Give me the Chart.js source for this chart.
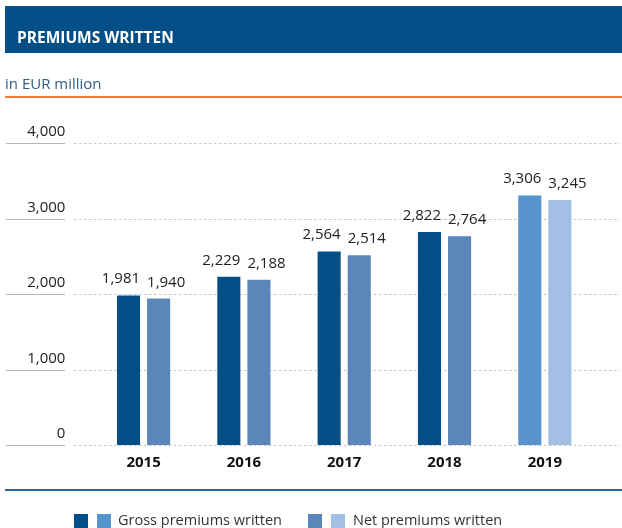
<!DOCTYPE html>
<html>
<head>
<meta charset="utf-8">
<script src="https://cdn.jsdelivr.net/npm/chart.js@4/dist/chart.umd.min.js"></script>
<style>
  html, body { margin: 0; padding: 0; background: #fff; }
  body { width: 622px; height: 528px; position: relative; overflow: hidden; font-family: "Open Sans", sans-serif; }
  #myChart { position: absolute; left: 0; top: 0; }
  .head { position: absolute; left: 5px; top: 6px; width: 617px; height: 47px; background: #024f87; }
  .head span { position: absolute; left: 12px; top: 21px; color: #fff; font-weight: bold; font-size: 15.5px; line-height: 20px; white-space: nowrap; }
  .unit { position: absolute; left: 5px; top: 73px; color: #2f5d88; font-size: 15px; line-height: 20px; }
  .rule-o { position: absolute; left: 5px; top: 96px; width: 617px; height: 2px; background: #f07c36; }
  .rule-b { position: absolute; left: 5px; top: 489px; width: 617px; height: 2px; background: #2c6398; }
  .leg { position: absolute; top: 510px; font-size: 14.5px; line-height: 20px; color: #333; white-space: nowrap; }
  .sw { position: absolute; top: 514px; width: 14px; height: 14px; }
</style>
</head>
<body>
<canvas id="myChart" width="622" height="528"></canvas>
<div class="head"><span>PREMIUMS WRITTEN</span></div>
<div class="unit">in EUR million</div>
<div class="rule-o"></div>
<div class="rule-b"></div>
<div class="sw" style="left:74px;background:#024f87"></div>
<div class="sw" style="left:97px;background:#5793cd"></div>
<div class="leg" style="left:118px">Gross premiums written</div>
<div class="sw" style="left:308px;background:#5b87b8"></div>
<div class="sw" style="left:331px;background:#a3bfe3"></div>
<div class="leg" style="left:353px">Net premiums written</div>
<script>
"use strict";
// data
var years = ["2015", "2016", "2017", "2018", "2019"];
var grossPremiums = [1981, 2229, 2564, 2822, 3306];
var netPremiums = [1940, 2188, 2514, 2764, 3245];
var yTickValues = [0, 1000, 2000, 3000, 4000];

// colours (last year is shown lighter)
var grossColors = ["#024f87", "#024f87", "#024f87", "#024f87", "#5793cd"];
var netColors = ["#5b87b8", "#5b87b8", "#5b87b8", "#5b87b8", "#a3bfe3"];

function fmt(v) {
    return v.toLocaleString("en-US");
}

var decor = {
    id: "decor",
    beforeDatasetsDraw: function (chart) {
        var c = chart.ctx, y = chart.scales.y;
        c.save();
        yTickValues.forEach(function (v) {
            var py = Math.round(y.getPixelForValue(v)) + 0.5;
            c.setLineDash([]);
            c.strokeStyle = "#b4b4b4";
            c.lineWidth = 1;
            c.beginPath(); c.moveTo(6, py); c.lineTo(65, py); c.stroke();
            c.setLineDash([2.5, 2.5]);
            c.strokeStyle = "#c4c4c4";
            c.beginPath(); c.moveTo(74, py); c.lineTo(620, py); c.stroke();
        });
        c.restore();
    },
    afterDatasetsDraw: function (chart) {
        var c = chart.ctx;
        c.save();
        c.font = "15px 'Open Sans'";
        c.fillStyle = "#222";
        c.textBaseline = "alphabetic";
        chart.data.datasets.forEach(function (ds, i) {
            chart.getDatasetMeta(i).data.forEach(function (bar, j) {
                if (i === 0) {
                    c.textAlign = "right";
                    c.fillText(fmt(ds.data[j]), bar.x + bar.width / 2, bar.y - 12);
                } else {
                    c.textAlign = "left";
                    c.fillText(fmt(ds.data[j]), bar.x - bar.width / 2, bar.y - 12);
                }
            });
        });
        c.restore();
    }
};

var ctx = document.getElementById("myChart");
var myChart = new Chart(ctx, {
    type: "bar",
    data: {
        labels: years,
        datasets: [{
            label: "Gross premiums written",
            data: grossPremiums,
            backgroundColor: grossColors,
            categoryPercentage: 0.6,
            barPercentage: 0.767
        }, {
            label: "Net premiums written",
            data: netPremiums,
            backgroundColor: netColors,
            categoryPercentage: 0.6,
            barPercentage: 0.767
        }]
    },
    options: {
        responsive: false,
        animation: false,
        layout: { padding: { left: 0, top: 143, right: 27, bottom: 53 } },
        plugins: { legend: { display: false }, tooltip: { enabled: false } },
        scales: {
            x: {
                grid: { display: false },
                border: { display: false },
                ticks: { color: "#111", font: { family: "Open Sans", size: 15, weight: "bold" }, padding: 1 },
                afterFit: function (s) { s.height = 30; }
            },
            y: {
                min: 0,
                max: 4000,
                grid: { display: false, drawTicks: false },
                border: { display: false },
                ticks: {
                    stepSize: 1000,
                    padding: 28,
                    labelOffset: -11,
                    color: "#222",
                    font: { family: "Open Sans", size: 15 },
                    callback: function (v) { return fmt(v); }
                },
                afterFit: function (s) { s.width = 93.4; }
            }
        }
    },
    plugins: [decor]
});
</script>
</body>
</html>
